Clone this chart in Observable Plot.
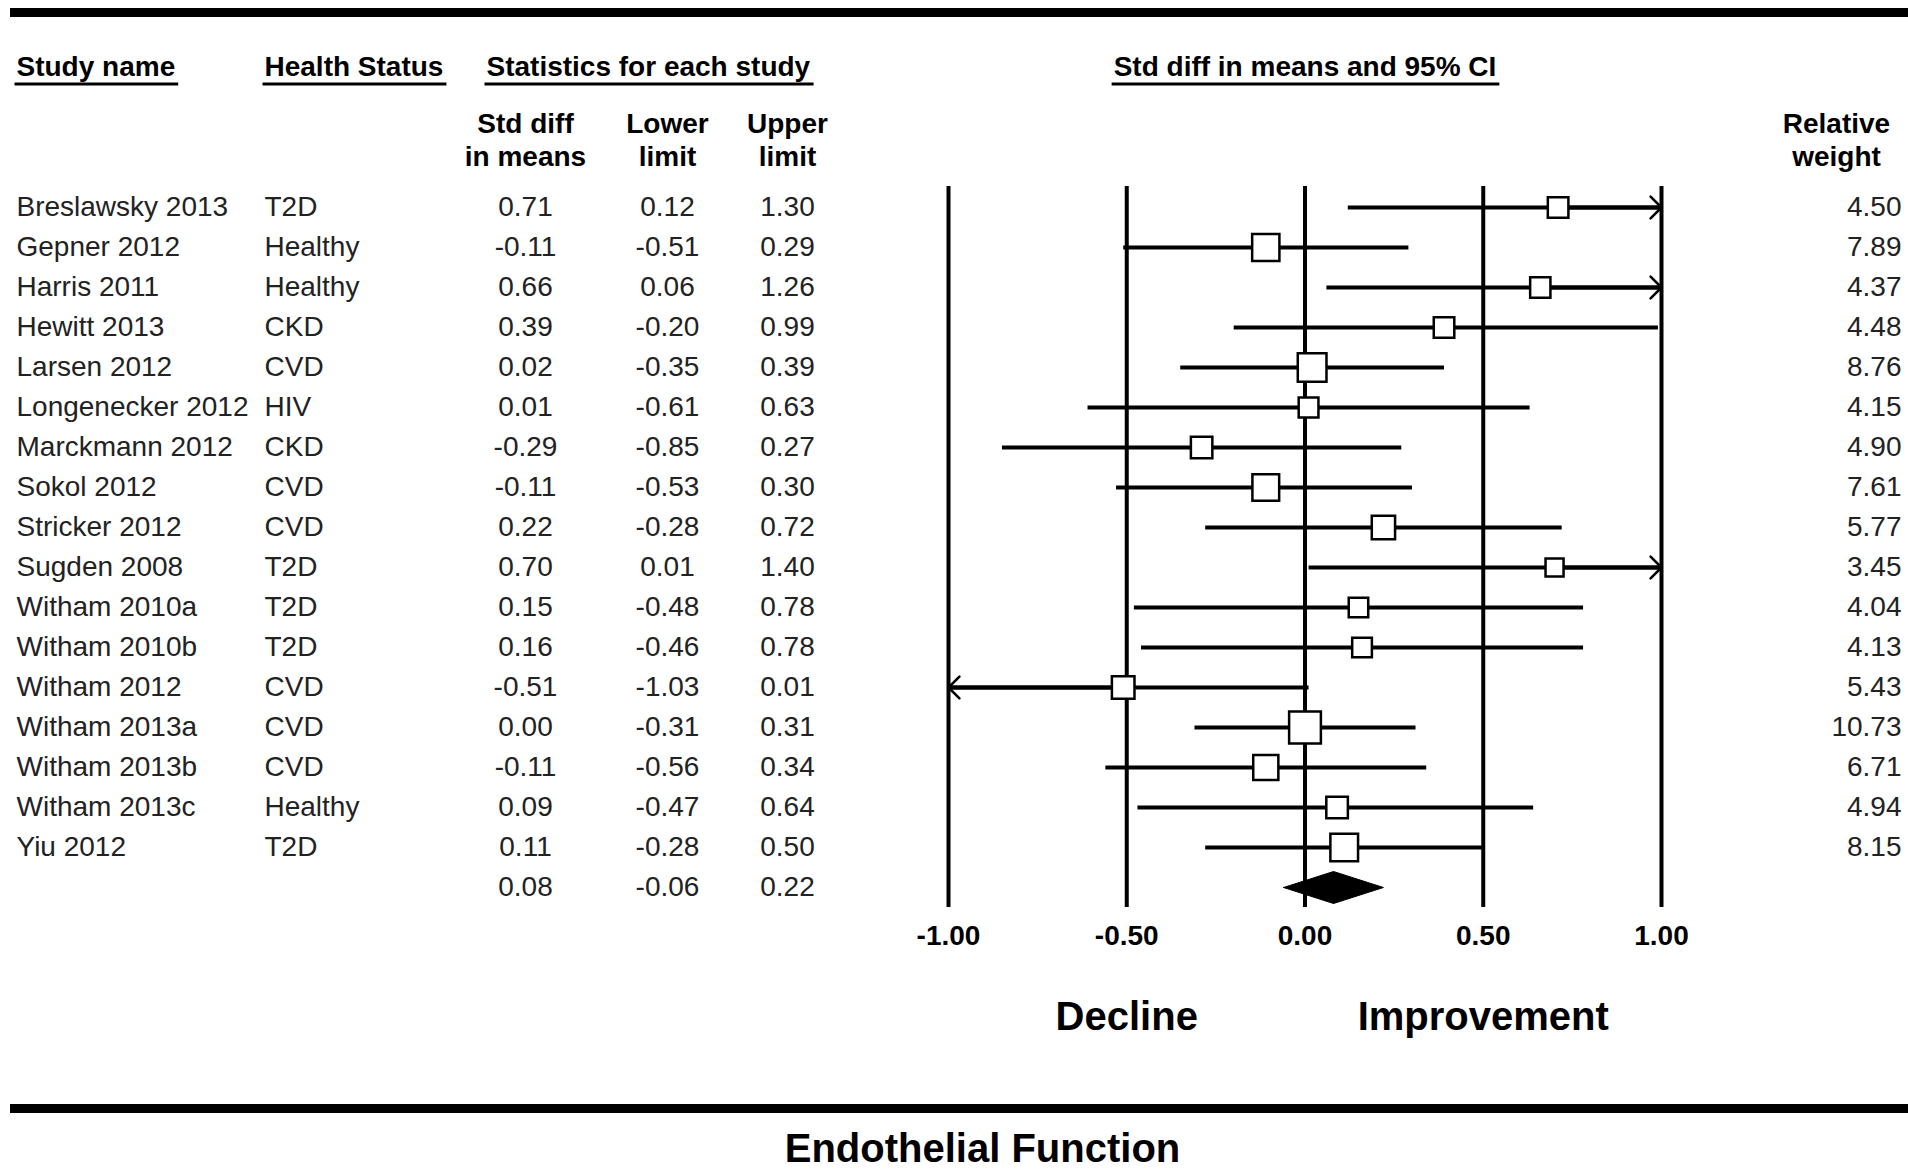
<!DOCTYPE html>
<html><head><meta charset="utf-8">
<script src="https://cdn.jsdelivr.net/npm/d3@7"></script>
<script src="https://cdn.jsdelivr.net/npm/@observablehq/plot@0.6"></script>
<style>
html,body{margin:0;padding:0;background:#fff;}
#wrap{position:relative;width:1908px;height:1173px;overflow:hidden;background:#fff;}
#wrap svg{position:absolute;left:0;top:0;}
.bar{position:absolute;left:10px;right:0;height:9px;background:#000;}
</style></head><body><div id="wrap"></div>
<script>
// ---- data ----
const studies = ["Breslawsky 2013","Gepner 2012","Harris 2011","Hewitt 2013","Larsen 2012","Longenecker 2012","Marckmann 2012","Sokol 2012","Stricker 2012","Sugden 2008","Witham 2010a","Witham 2010b","Witham 2012","Witham 2013a","Witham 2013b","Witham 2013c","Yiu 2012"];
const healthStatus = ["T2D","Healthy","Healthy","CKD","CVD","HIV","CKD","CVD","CVD","T2D","T2D","T2D","CVD","CVD","CVD","Healthy","T2D"];
const stdDiff = [0.71,-0.11,0.66,0.39,0.02,0.01,-0.29,-0.11,0.22,0.70,0.15,0.16,-0.51,0.00,-0.11,0.09,0.11];
const lowerLimit = [0.12,-0.51,0.06,-0.20,-0.35,-0.61,-0.85,-0.53,-0.28,0.01,-0.48,-0.46,-1.03,-0.31,-0.56,-0.47,-0.28];
const upperLimit = [1.30,0.29,1.26,0.99,0.39,0.63,0.27,0.30,0.72,1.40,0.78,0.78,0.01,0.31,0.34,0.64,0.50];
const relWeight = [4.50,7.89,4.37,4.48,8.76,4.15,4.90,7.61,5.77,3.45,4.04,4.13,5.43,10.73,6.71,4.94,8.15];
const summaryStats = [0.08,-0.06,0.22]; // std diff, lower, upper
const xTicks = [-1.00,-0.50,0.00,0.50,1.00];
const directionLabels = ["Decline","Improvement"];
const directionAt = [-0.50,0.50];
const headerLabels = ["Study name","Health Status","Statistics for each study","Std diff in means and 95% CI"];
const title = "Endothelial Function";

// ---- derived tables ----
const n = studies.length;
const rows = studies.map((name,i)=>({i,name,status:healthStatus[i],smd:stdDiff[i],lower:lowerLimit[i],upper:upperLimit[i],weight:relWeight[i]}));
const statRows = [...rows,{i:n,smd:summaryStats[0],lower:summaryStats[1],upper:summaryStats[2]}];
const [xmin,xmax] = [xTicks[0], xTicks[xTicks.length-1]];
const overflow = [];
rows.forEach(d=>{
  if (d.upper>xmax) overflow.push({i:d.i,from:d.smd,to:d.upper});
  if (d.lower<xmin) overflow.push({i:d.i,from:d.smd,to:d.lower});
});
const dh = 0.4;
const diamond = [
  {x:summaryStats[1],y:n},{x:summaryStats[0],y:n-dh},{x:summaryStats[2],y:n},{x:summaryStats[0],y:n+dh},{x:summaryStats[1],y:n}
];
const directions = directionLabels.map((t,k)=>({t,x:directionAt[k]}));
const fmt = v=>v.toFixed(2);

const W=1908,H=1173,TOP=186,BOT=907;
const FONT="'Liberation Sans', Arial, Helvetica, sans-serif";
const fixed = (str,x,y,o={}) => Plot.text([str],{text:d=>d,frameAnchor:"top-left",dx:x,dy:y-TOP,textAnchor:"start",lineAnchor:"middle",fontSize:28,fontWeight:"bold",fill:"#000",...o});
const col = (data,text,dx,o={}) => Plot.text(data,{y:"i",text,frameAnchor:"left",dx,textAnchor:"start",lineAnchor:"middle",fontSize:28,fill:"#222",...o});

const chart = Plot.plot({
  width:W,height:H,marginTop:TOP,marginBottom:H-BOT,marginLeft:0,marginRight:0,
  style:{fontFamily:FONT,background:"transparent",color:"#000",overflow:"visible"},
  x:{domain:[xmin,xmax],range:[948,1661],clamp:true,axis:null},
  y:{domain:[-0.525,n+0.5],range:[TOP,BOT],axis:null},
  r:{type:"sqrt",domain:[0,10],range:[0,17.3]},
  marks:[
    Plot.ruleX(xTicks,{x:d=>d,stroke:"#000",strokeWidth:4}),
    Plot.link(rows,{x1:"lower",x2:"upper",y1:"i",y2:"i",stroke:"#000",strokeWidth:4}),
    Plot.link(overflow,{x1:"from",x2:"to",y1:"i",y2:"i",stroke:"#000",strokeWidth:4,markerEnd:"arrow"}),
    Plot.dot(rows,{x:"smd",y:"i",r:"weight",symbol:"square",fill:"#fff",stroke:"#000",strokeWidth:2.5}),
    Plot.line(diamond,{x:"x",y:"y",fill:"#000",stroke:"#000",strokeWidth:1}),
    // table columns
    col(rows,"name",16),
    col(rows,"status",264),
    col(statRows,d=>fmt(d.smd),525,{textAnchor:"middle"}),
    col(statRows,d=>fmt(d.lower),667,{textAnchor:"middle"}),
    col(statRows,d=>fmt(d.upper),787,{textAnchor:"middle"}),
    col(rows,d=>fmt(d.weight),-7,{frameAnchor:"right",textAnchor:"end"}),
    // headers
    fixed(headerLabels[0],16,67),
    fixed(headerLabels[1],264,67),
    fixed(headerLabels[2],486,67),
    Plot.text([headerLabels[3]],{x:()=>0,text:d=>d,frameAnchor:"top",dy:67-TOP,textAnchor:"middle",lineAnchor:"middle",fontSize:28,fontWeight:"bold",fill:"#000"}),
    fixed("Std diff\nin means",525,138,{textAnchor:"middle",lineHeight:1.18}),
    fixed("Lower\nlimit",667,138,{textAnchor:"middle",lineHeight:1.18}),
    fixed("Upper\nlimit",787,138,{textAnchor:"middle",lineHeight:1.18}),
    fixed("Relative\nweight",1836,138,{textAnchor:"middle",lineHeight:1.18}),
    // tick labels
    Plot.text(xTicks,{x:d=>d,text:fmt,frameAnchor:"bottom",dy:29,textAnchor:"middle",lineAnchor:"middle",fontSize:28,fontWeight:"bold",fill:"#000"}),
    // direction labels
    Plot.text(directions,{x:"x",text:"t",frameAnchor:"bottom",dy:1017-BOT,textAnchor:"middle",lineAnchor:"middle",fontSize:40,fontWeight:"bold",fill:"#000"}),
    // title
    fixed(title,982,1149,{textAnchor:"middle",fontSize:40})
  ]
});
chart.querySelectorAll("marker").forEach(m=>{
  m.setAttribute("stroke-width","0.95");
  const p=m.querySelector("path"); if(p) p.setAttribute("d","M-4.1,-4.1L0,0L-4.1,4.1");
});
const wrap=document.getElementById("wrap");
wrap.appendChild(chart);
// underline the section headers
const svgNS="http://www.w3.org/2000/svg";
const hdr=new Set(headerLabels);
chart.querySelectorAll("text").forEach(t=>{
  if(!hdr.has(t.textContent)) return;
  const b=t.getBBox();
  const ln=document.createElementNS(svgNS,"line");
  ln.setAttribute("x1",b.x-2);ln.setAttribute("x2",b.x+b.width+3);
  ln.setAttribute("y1",b.y+b.height+1.5);ln.setAttribute("y2",b.y+b.height+1.5);
  ln.setAttribute("stroke","#000");ln.setAttribute("stroke-width","3");
  const tr=t.getAttribute("transform"); if(tr) ln.setAttribute("transform",tr);
  t.parentNode.appendChild(ln);
});
const topBar=document.createElement("div");topBar.className="bar";topBar.style.top="8px";wrap.appendChild(topBar);
const botBar=document.createElement("div");botBar.className="bar";botBar.style.top="1104px";wrap.appendChild(botBar);
</script></body></html>
